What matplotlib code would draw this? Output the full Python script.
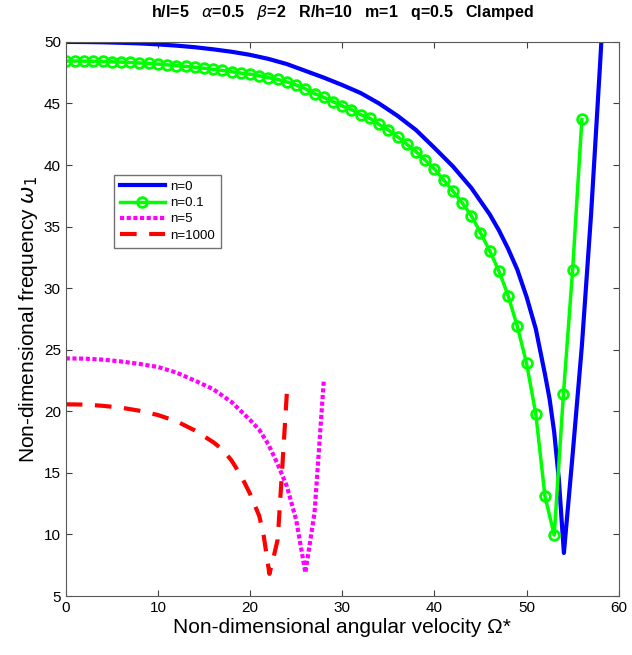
import numpy as np
import matplotlib
matplotlib.use("Agg")
import matplotlib.pyplot as plt

plt.rcParams['font.family'] = ['Liberation Sans', 'DejaVu Sans']
plt.rcParams['mathtext.fontset'] = 'dejavusans'

# n = 0
omega_n0 = [0, 2, 4, 6, 8, 10, 12, 14, 16, 18, 20, 22, 24, 26, 28, 30, 32, 34, 36,
            38, 40, 42, 44, 46, 47, 48, 49, 50, 51, 52, 52.5, 53, 53.5, 54.05,
            55, 56, 57, 58, 58.3]
freq_n0 = [50.0, 49.99, 49.97, 49.93, 49.88, 49.8, 49.7, 49.57, 49.4, 49.2, 48.95,
           48.62, 48.2, 47.65, 47.1, 46.5, 45.85, 45.0, 44.0, 42.85, 41.4, 39.9,
           38.15, 36.0, 34.7, 33.2, 31.5, 29.3, 26.7, 23.0, 21.0, 18.3, 14.5, 8.5,
           16.5, 25.3, 36.0, 48.5, 52.5]

# n = 0.1, one marker per integer angular velocity
omega_n01 = list(range(0, 57))
freq_n01 = [48.45, 48.45, 48.44, 48.43, 48.41, 48.39, 48.36, 48.33, 48.29, 48.25,
            48.2, 48.14, 48.08, 48.01, 47.94, 47.86, 47.77, 47.68, 47.58, 47.47,
            47.38, 47.25, 47.1, 46.95, 46.75, 46.5, 46.2, 45.8, 45.5, 45.15,
            44.8, 44.5, 44.1, 43.8, 43.3, 42.85, 42.3, 41.7, 41.1, 40.4,
            39.7, 38.8, 37.9, 36.95, 35.9, 34.5, 33.05, 31.4, 29.4, 26.9,
            23.9, 19.8, 13.1, 9.95, 21.4, 31.5, 43.7]

# n = 5
omega_n5 = [0, 2, 4, 6, 8, 10, 12, 14, 16, 18, 20, 21, 22, 23, 24, 25, 26, 27, 28]
freq_n5 = [24.3, 24.28, 24.2, 24.05, 23.85, 23.6, 23.15, 22.5, 21.8, 20.75, 19.3,
           18.5, 17.3, 15.7, 13.9, 11.2, 6.9, 11.8, 22.5]

# n = 1000
omega_n1000 = [0, 2, 4, 6, 8, 10, 12, 14, 16, 17, 18, 19, 20, 21, 21.5, 22.1,
               22.5, 23.0, 23.5, 24.0]
freq_n1000 = [20.57, 20.55, 20.45, 20.3, 20.05, 19.7, 19.2, 18.45, 17.5, 16.9, 16.0,
              14.8, 13.3, 11.5, 9.8, 6.8, 8.0, 9.6, 15.5, 21.6]

fig = plt.figure(figsize=(6.32, 6.55), dpi=100)
ax = fig.add_axes([0.104, 0.090, 0.875, 0.846])

ax.plot(omega_n0, freq_n0, color=(0, 0, 1), lw=3, label='n=0')
ax.plot(omega_n01, freq_n01, color=(0, 1, 0), lw=2.5, marker='o', ms=7,
        mfc='none', mew=2, label='n=0.1')
ax.plot(omega_n5, freq_n5, color=(1, 0, 1), lw=3, ls=(0, (1, 0.6)), label='n=5')
ax.plot(omega_n1000, freq_n1000, color=(1, 0, 0), lw=3, ls=(0, (4, 3)), label='n=1000')

ax.set_xlim(0, 60)
ax.set_ylim(5, 50)
ax.set_xticks(np.arange(0, 61, 10))
ax.set_yticks(np.arange(5, 51, 5))
ax.tick_params(direction='in', top=True, right=True, labelsize=11, length=4,
               color='0.25')
for s in ax.spines.values():
    s.set_color('0.35')

ax.set_xlabel('Non-dimensional angular velocity Ω*', fontsize=15, labelpad=2)
ax.set_ylabel('Non-dimensional frequency $\\omega_1$', fontsize=15, labelpad=3)
ax.set_title('h/l=5   $\\alpha$=0.5   $\\beta$=2   R/h=10   m=1   q=0.5   Clamped',
             fontsize=11.5, fontweight='bold', pad=18)

leg = ax.legend(loc='upper left', bbox_to_anchor=(0.075, 0.772), fontsize=9.5,
                frameon=True, fancybox=False, edgecolor='0.3', handlelength=3.4,
                borderpad=0.45, labelspacing=0.3, handletextpad=0.4)
leg.get_frame().set_linewidth(1.0)

fig.savefig('out.png', dpi=100)
